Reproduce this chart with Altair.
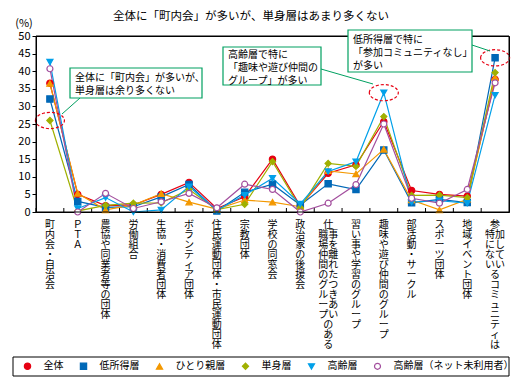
import altair as alt
import pandas as pd

FONT = "Noto Sans CJK JP"

# categories: each entry is a list of vertical columns (right column first)
categories = [
    ["町内会・自治会"],
    ["ＰＴＡ"],
    ["農協や同業者等の団体"],
    ["労働組合"],
    ["生協・消費者団体"],
    ["ボランティア団体"],
    ["住民運動団体・市民運動団体"],
    ["宗教団体"],
    ["学校の同窓会"],
    ["政治家の後援会"],
    ["仕事を離れたつきあいのある", "職場仲間のグループ"],
    ["習い事や学習のグループ"],
    ["趣味や遊び仲間のグループ"],
    ["部活動・サークル"],
    ["スポーツ団体"],
    ["地域イベント団体"],
    ["参加しているコミュニティは", "特にない"],
]

series = ["全体", "低所得層", "ひとり親層", "単身層", "高齢層", "高齢層（ネット未利用者）"]

v_all = [36.6, 5.0, 1.8, 2.0, 5.0, 8.4, 1.0, 4.3, 15.0, 1.7, 11.0, 13.4, 25.7, 6.1, 5.0, 4.5, 37.7]
v_low = [32.1, 3.0, 1.3, 1.5, 4.3, 7.8, 0.3, 5.6, 7.9, 2.0, 8.0, 6.4, 17.6, 2.6, 3.6, 2.7, 43.8]
v_single_parent = [36.5, 5.3, 0.6, 2.0, 5.2, 2.8, 0.8, 3.4, 2.8, 1.5, 11.7, 10.8, 17.8, 3.4, 0.6, 3.6, 38.2]
v_single = [26.0, 0.3, 1.9, 2.5, 2.6, 6.4, 0.7, 2.2, 14.3, 1.2, 13.8, 13.0, 27.1, 4.7, 4.8, 4.1, 39.6]
v_elderly = [42.6, 1.0, 4.1, 0.0, 0.6, 7.2, 0.5, 4.8, 9.6, 2.3, 11.5, 14.3, 33.9, 2.8, 3.2, 2.5, 33.2]
v_elderly_offline = [40.7, 0.0, 5.3, 1.0, 2.9, 5.3, 1.2, 7.9, 6.4, 0.0, 2.5, 7.8, 25.0, 3.9, 2.5, 6.4, 36.7]
values = [v_all, v_low, v_single_parent, v_single, v_elderly, v_elderly_offline]

colors = ["#e60012", "#0068b7", "#f39800", "#a0b000", "#00a0e9", "#a34f9e"]
fills = ["#e60012", "#0068b7", "#f39800", "#a0b000", "#00a0e9", "#ffffff"]
shapes = ["circle", "square", "triangle-up", "diamond", "triangle-down", "circle"]
sizes = [40, 36, 42, 55, 42, 36]

title_text = "全体に「町内会」が多いが、単身層はあまり多くない"
note1 = ["全体に「町内会」が多いが、", "単身層は余り多くない"]
note2 = ["高齢層で特に", "「趣味や遊び仲間の", "グループ」が多い"]
note3 = ["低所得層で特に", "「参加コミュニティなし」", "が多い"]


def vertical_label(cols):
    right = cols[0]
    if len(cols) == 1:
        return "/".join(list(right))
    left = cols[1]
    n = max(len(right), len(left) + 1)
    rows = []
    for i in range(n):
        l = left[i - 1] if 1 <= i <= len(left) else "\u3000"
        r = right[i] if i < len(right) else "\u3000"
        rows.append(l + r)
    return "/".join(rows)


cat_keys = [vertical_label(c) for c in categories]

rows = []
for si, s in enumerate(series):
    for ci, c in enumerate(cat_keys):
        rows.append({"cat": c, "idx": ci, "series": s, "value": values[si][ci]})
df = pd.DataFrame(rows)

# highlighted points (circled in red)
hl = pd.DataFrame([
    {"cat": cat_keys[0], "value": v_single[0]},
    {"cat": cat_keys[12], "value": v_elderly[12]},
    {"cat": cat_keys[16], "value": v_low[16]},
])

W, H = 473, 176
xscale = alt.Scale(type="band", domain=cat_keys, paddingInner=0, paddingOuter=0)
yscale = alt.Scale(domain=[0, 50], nice=False)
cscale = alt.Scale(domain=series, range=colors)

legend_paths = [
    "M-1,0H1M0.36,0A0.36,0.36,0,1,1,-0.36,0A0.36,0.36,0,1,1,0.36,0Z",
    "M-1,0H1M-0.33,-0.33H0.33V0.33H-0.33Z",
    "M-1,0H1M0,-0.4L0.38,0.3H-0.38Z",
    "M-1,0H1M0,-0.44L0.44,0L0,0.44L-0.44,0Z",
    "M-1,0H1M-0.38,-0.3H0.38L0,0.4Z",
    "M-1,0H-0.36M0.36,0H1M0.36,0A0.36,0.36,0,1,1,-0.36,0A0.36,0.36,0,1,1,0.36,0Z",
]
series_arr = "[" + ",".join(f"'{s}'" for s in series) + "]"


def pick(lst):
    return "[" + ",".join(f"'{p}'" for p in lst) + "][indexof(" + series_arr + ", datum.value)]"


legend = alt.Legend(
    title=None, orient="none", legendX=-17, legendY=325, direction="horizontal",
    symbolSize=324, symbolStrokeWidth=1.2, symbolOffset=3.5, labelFontSize=10, labelOffset=11,
    columnPadding=11, padding=0, labelFont=FONT, labelColor="black",
    symbolType=alt.ExprRef(expr=pick(legend_paths)),
    symbolFillColor=alt.ExprRef(expr=pick(fills)),
    symbolStrokeColor=alt.ExprRef(expr=pick(colors)),
    symbolOpacity=1,
)

xaxis = alt.Axis(
    title=None, ticks=False, domain=True, domainColor="black",
    labelExpr="split(datum.label, '/')", labelAngle=0, labelAlign="center",
    labelBaseline="top", labelPadding=7, labelFontSize=10, labelLineHeight=10,
    labelOverlap=False, labelFont=FONT, labelColor="black",
)
yaxis = alt.Axis(
    title=None, values=list(range(0, 51, 5)), grid=False, tickSize=4,
    tickColor="black", domainColor="black", labelPadding=2, labelFontSize=11,
    labelFont=FONT, labelColor="black",
)

X = alt.X("cat:N", scale=xscale, sort=cat_keys, bandPosition=0.5, axis=xaxis)
Y = alt.Y("value:Q", scale=yscale, axis=yaxis)

one = alt.Data(values=[{"a": 1}])

ticks = alt.Chart(pd.DataFrame({"cat": cat_keys})).mark_rule(color="black", strokeWidth=1).encode(
    x=alt.X("cat:N", scale=xscale, sort=cat_keys, bandPosition=0, axis=xaxis),
    y=alt.value(H), y2=alt.value(H - 4),
)

lines = alt.Chart(df).mark_line(strokeWidth=1.2).encode(
    x=X, y=Y,
    color=alt.Color("series:N", scale=cscale, legend=legend),
    order=alt.Order("idx:Q"),
)

points = alt.Chart(df).mark_point(filled=False, strokeWidth=1.2, opacity=1, fillOpacity=1).encode(
    x=X, y=Y,
    color=alt.Color("series:N", scale=cscale, legend=None),
    fill=alt.Fill("series:N", scale=alt.Scale(domain=series, range=fills), legend=None),
    shape=alt.Shape("series:N", scale=alt.Scale(domain=series, range=shapes), legend=None),
    size=alt.Size("series:N", scale=alt.Scale(domain=series, range=sizes), legend=None),
)

ellipse_path = "M-1,0A1,0.56,0,1,1,1,0A1,0.56,0,1,1,-1,0Z"
ellipses = alt.Chart(hl).mark_point(
    shape=ellipse_path, size=841, filled=False, color="#e60012", strokeWidth=1.2,
    strokeDash=[3, 2], opacity=1,
).encode(x=X, y=Y)

GREEN = "#00a060"


def leader(x1, y1, x2, y2):
    return alt.Chart(one).mark_rule(color=GREEN, strokeWidth=1).encode(
        x=alt.value(x1), y=alt.value(y1), x2=alt.value(x2), y2=alt.value(y2))


def box(x1, y1, x2, y2, color=GREEN, sw=1.2):
    return alt.Chart(one).mark_rect(fill="white", stroke=color, strokeWidth=sw).encode(
        x=alt.value(x1), y=alt.value(y1), x2=alt.value(x2), y2=alt.value(y2))


def note(lines_, x, y):
    return alt.Chart(one).mark_text(
        text=lines_, align="left", baseline="middle", fontSize=10, lineHeight=13,
        font=FONT, color="black").encode(x=alt.value(x), y=alt.value(y))


title = alt.Chart(one).mark_text(
    text=title_text, fontSize=11.5, font=FONT, color="black", align="center", baseline="middle"
).encode(x=alt.value(215), y=alt.value(-19))

pct = alt.Chart(one).mark_text(
    text="(%)", fontSize=11, font=FONT, color="black", align="center", baseline="middle"
).encode(x=alt.value(-12), y=alt.value(-12))

frame = alt.Chart(one).mark_rect(fill=None, stroke="black", strokeWidth=1).encode(
    x=alt.value(0), x2=alt.value(W), y=alt.value(0), y2=alt.value(H))

chart = alt.layer(
    box(-23, 321, 473, 340, "black", 1), ticks, lines, points, ellipses,
    leader(44, 62, 26, 78), leader(285, 33, 337, 48), leader(436, 9, 454, 15),
    frame,
    box(34, 32, 166, 62), box(187, 11, 285, 49), box(312, -6, 436, 36),
    note(note1, 39, 42), note(note2, 192, 19), note(note3, 317, 4),
    title, pct,
).properties(
    width=W, height=H,
    padding={"left": 28, "top": 28, "right": 5, "bottom": 167},
    autosize=alt.AutoSizeParams(type="none"),
).configure(font=FONT).configure_view(stroke="black", strokeWidth=1)

chart.save("out.html", embed_options={"renderer": "svg", "actions": False})
